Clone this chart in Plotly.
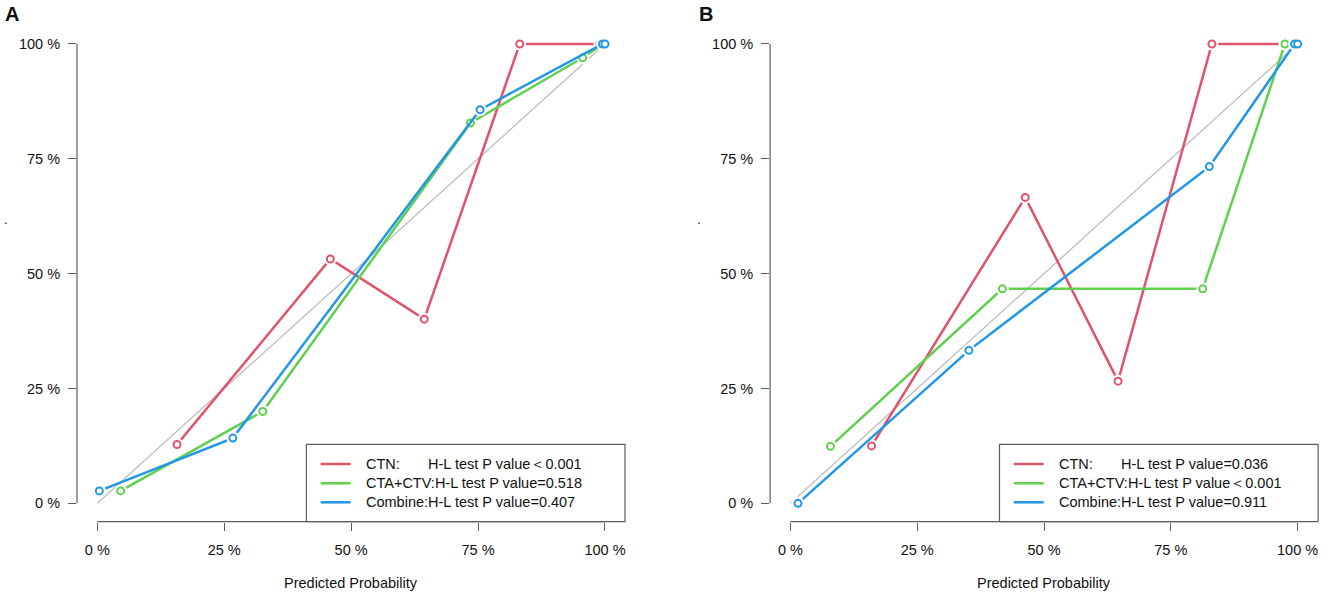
import plotly.graph_objects as go

W, H = 1325, 598

# ---------------- data (percent) ----------------
ticks = [0, 25, 50, 75, 100]
tick_text = ["0 %", "25 %", "50 %", "75 %", "100 %"]

# Panel A
a_ctn_x = [15.7, 45.9, 64.4, 83.2, 99.0]
a_ctn_y = [12.8, 53.2, 40.1, 100.0, 100.0]
a_cta_x = [4.6, 32.6, 73.5, 95.6, 99.6]
a_cta_y = [2.7, 20.0, 82.8, 97.0, 100.0]
a_com_x = [0.4, 26.7, 75.4, 99.5, 100.0]
a_com_y = [2.7, 14.2, 85.7, 100.0, 100.0]

# Panel B
b_ctn_x = [16.0, 46.3, 64.6, 83.1, 98.6]
b_ctn_y = [12.5, 66.6, 26.6, 100.0, 100.0]
b_cta_x = [7.9, 41.8, 81.3, 97.5]
b_cta_y = [12.4, 46.7, 46.7, 100.0]
b_com_x = [1.5, 35.2, 82.6, 99.4, 100.0]
b_com_y = [0.0, 33.3, 73.3, 100.0, 100.0]

SP = "\u00a0" * 7
legend_a = ["CTN:" + SP + "H-L test P value\uff1c0.001",
            "CTA+CTV:H-L test P value=0.518",
            "Combine:H-L test P value=0.407"]
legend_b = ["CTN:" + SP + "H-L test P value=0.036",
            "CTA+CTV:H-L test P value\uff1c0.001",
            "Combine:H-L test P value=0.911"]
series_names = ["CTN", "CTA+CTV", "Combine"]

colors = ["#DF536B", "#61D04F", "#2297E6"]
FONT = "Liberation Sans, Arial, sans-serif"
AXC = "#5e5e5e"
TXT = "#111111"


def px(v):
    return v / W


def py(v):
    return 1 - v / H


fig = go.Figure()


def add_panel(xs, ys, xa, ya):
    # diagonal reference
    fig.add_trace(go.Scatter(x=[ticks[0], ticks[-1]], y=[ticks[0], ticks[-1]], mode="lines",
                             line=dict(color="#BEBEBE", width=1.3), showlegend=False,
                             xaxis=xa, yaxis=ya, hoverinfo="skip"))
    for x, y, c, nm in zip(xs, ys, colors, series_names):
        fig.add_trace(go.Scatter(x=x, y=y, mode="lines", line=dict(color=c, width=2.5),
                                 name=nm, showlegend=False, xaxis=xa, yaxis=ya))
        fig.add_trace(go.Scatter(x=x, y=y, mode="markers",
                                 marker=dict(size=13, color="white", line=dict(width=0)),
                                 showlegend=False, xaxis=xa, yaxis=ya, hoverinfo="skip"))
        fig.add_trace(go.Scatter(x=x, y=y, mode="markers", name=nm,
                                 marker=dict(size=7, color="white", line=dict(color=c, width=2)),
                                 showlegend=False, xaxis=xa, yaxis=ya))


add_panel([a_ctn_x, a_cta_x, a_com_x], [a_ctn_y, a_cta_y, a_com_y], "x", "y")
add_panel([b_ctn_x, b_cta_x, b_com_x], [b_ctn_y, b_cta_y, b_com_y], "x2", "y2")

# plot areas (reference pixel layout)
ax_l, ax_r = 77.0, 625.3
bx_l, bx_r = 770.1, 1317.9
y_bot, y_top = 521.7, 25.6
shift_b = bx_l - ax_l

axis_common = dict(range=[-4, 104], tickvals=ticks, ticktext=tick_text, showgrid=False,
                   zeroline=False, showline=False, ticks="outside", ticklen=8, tickwidth=1.2,
                   tickcolor=AXC, tickfont=dict(family=FONT, size=14.5, color=TXT),
                   ticklabeloverflow="allow", fixedrange=True)

fig.update_layout(
    width=W, height=H, margin=dict(l=0, r=0, t=0, b=0),
    paper_bgcolor="white", plot_bgcolor="white", showlegend=False,
    xaxis=dict(domain=[px(ax_l), px(ax_r)], anchor="y", ticklabelstandoff=7, **axis_common),
    yaxis=dict(domain=[py(y_bot), py(y_top)], anchor="x", ticklabelstandoff=5, **axis_common),
    xaxis2=dict(domain=[px(bx_l), px(bx_r)], anchor="y2", ticklabelstandoff=7, **axis_common),
    yaxis2=dict(domain=[py(y_bot), py(y_top)], anchor="x2", ticklabelstandoff=5, **axis_common),
)

shapes = []
for xa, ya in [("x", "y"), ("x2", "y2")]:
    # R-style axis lines spanning first..last tick
    shapes.append(dict(type="line", xref=xa, yref=ya + " domain", x0=ticks[0], x1=ticks[-1],
                       y0=0, y1=0, line=dict(color=AXC, width=1.2)))
    shapes.append(dict(type="line", xref=xa + " domain", yref=ya, x0=0, x1=0,
                       y0=ticks[0], y1=ticks[-1], line=dict(color=AXC, width=1.2)))

ann = []
row_y = [464.0, 483.3, 502.3]
for dx, labels in [(0.0, legend_a), (shift_b, legend_b)]:
    # legend box
    shapes.append(dict(type="rect", xref="paper", yref="paper", x0=px(306.4 + dx), x1=px(625.0 + dx),
                       y0=py(521.7), y1=py(444.3), fillcolor="white",
                       line=dict(color=AXC, width=1.2), layer="above"))
    for ry, lab, c in zip(row_y, labels, colors):
        shapes.append(dict(type="line", xref="paper", yref="paper", x0=px(320.7 + dx), x1=px(350.6 + dx),
                           y0=py(ry), y1=py(ry), line=dict(color=c, width=2.5), layer="above"))
        ann.append(dict(text=lab, xref="paper", x=px(364.0 + dx), yref="paper", y=py(ry),
                        showarrow=False, xanchor="left", yanchor="middle",
                        font=dict(family=FONT, size=14.5, color=TXT)))
fig.update_layout(shapes=shapes)

for xa, letter, lx, dx in [("x", "A", 3, 5.7), ("x2", "B", 697, 698.7)]:
    ann.append(dict(text="Predicted Probability", xref=xa, x=50, yref="paper", y=py(583),
                    showarrow=False, xanchor="center", yanchor="middle",
                    font=dict(family=FONT, size=14.5, color=TXT)))
    ann.append(dict(text="<b>%s</b>" % letter, xref="paper", x=px(lx), yref="paper", y=py(14),
                    showarrow=False, xanchor="left", yanchor="middle",
                    font=dict(family=FONT, size=20, color="#111111")))
    ann.append(dict(text=".", xref="paper", x=px(dx), yref="paper", y=py(219),
                    showarrow=False, xanchor="center", yanchor="middle",
                    font=dict(family=FONT, size=13, color="#000000")))
fig.update_layout(annotations=ann)

fig.write_html("out.html", config={"displayModeBar": False},
               post_script="document.body.style.margin='0';document.body.style.overflow='hidden';")
